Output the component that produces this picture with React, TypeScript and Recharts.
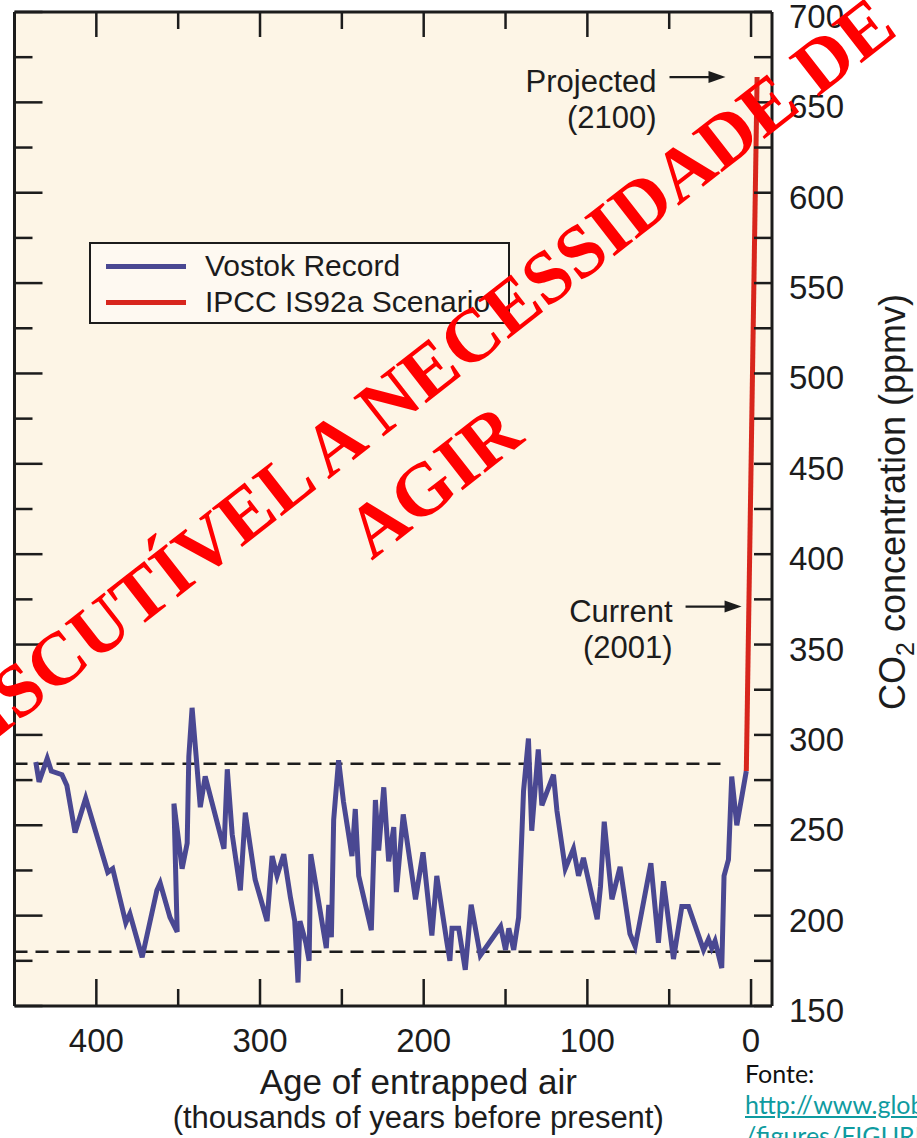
import React from 'react';
import { LineChart, Line, XAxis, YAxis, ReferenceLine, ReferenceDot, Legend, Label, CartesianGrid } from 'recharts';

// Vostok ice core record (age in thousands of years before present, CO2 in ppmv)
const vostokAge = [
  437, 435, 430, 427.5, 421, 418, 413, 406.5, 393, 390, 382, 379.5, 372, 363, 361, 355, 350.6, 352.6,
  347.6, 344.5, 343.5, 341.5, 339, 336.5, 333.5, 322, 320, 317, 312, 309, 303, 295.7, 292.6, 289.6,
  285.5, 281.4, 278.8, 276.8, 275.6, 272, 270, 269, 259.5, 258, 256.4, 255, 252, 249, 243.8, 241.8,
  239.7, 232, 229.5, 227.5, 224.4, 221.4, 218.3, 216.7, 212.5, 205, 200.4, 195, 192, 185.8, 184,
  182.7, 178.6, 174.6, 171, 165.4, 153, 150, 148, 145, 142, 139, 136, 134, 130, 127.8, 120.7, 118.6,
  113.5, 108.5, 105.4, 102.4, 94, 92, 89.7, 85, 80, 74, 70.8, 61.2, 56.6, 53.5, 47.4, 42.3, 38.2, 29,
  26, 24, 22, 17.9, 16.5, 13.8, 11.8, 8.7, 2.9,
];
const vostokCo2 = [
  285, 274, 287, 280, 278, 272, 246, 265, 224, 226, 196, 201, 177, 214, 218, 199, 191, 262,
  226, 240, 288, 315, 288, 260, 277, 237, 281, 245, 214, 257, 220, 197, 233, 222,
  234, 210, 197, 163, 197, 185, 175, 234, 182, 206, 188, 253, 286, 263, 233, 259,
  222, 192, 264, 236, 271, 230, 249, 213, 256, 209, 235, 189, 222, 185, 175,
  193, 193, 170, 206, 178, 194, 181, 193, 181, 199, 269, 298, 247, 292, 261, 278, 258,
  226, 237, 222, 232, 198, 216, 252, 209, 227, 190, 183, 229, 185, 219, 176, 205, 205, 181,
  187, 182, 186, 171, 222, 231, 277, 250, 280,
];

// IPCC IS92a projection
const ipccAge = [2.9, -3.7];
const ipccCo2 = [280, 664];

const ageTicks = [400, 350, 300, 250, 200, 150, 100, 50, 0];
const co2Ticks = [150, 175, 200, 225, 250, 275, 300, 325, 350, 375, 400, 425, 450, 475, 500, 525, 550, 575, 600, 625, 650, 675, 700];
const glacialLevels = [284, 180];
const glacialEndAge = 17.4;

const callouts = [
  { label: 'Projected', year: '(2100)', age: 15.6, co2: 664 },
  { label: 'Current', year: '(2001)', age: 5.8, co2: 371 },
];
const seriesNames = ['Vostok Record', 'IPCC IS92a Scenario'];
const seriesColors = ['#4a4892', '#d8261d'];

const vostok = vostokAge.map((age, i) => ({ age, co2: vostokCo2[i] }));
const ipcc = ipccAge.map((age, i) => ({ age, co2: ipccCo2[i] }));

const FONT = '"Liberation Sans", Arial, Helvetica, sans-serif';
const INK = '#1c1c1c';

const BottomTick = (props: any) => {
  const { x, y, payload } = props;
  const major = payload.value % 100 === 0;
  return (
    <g>
      <line x1={x} y1={y} x2={x} y2={y - (major ? 27 : 17)} stroke={INK} strokeWidth={2.5} />
      {major && (
        <text x={x} y={y + 46} textAnchor="middle" fontSize={33} fontFamily={FONT} fill={INK}>
          {payload.value}
        </text>
      )}
    </g>
  );
};

const TopTick = (props: any) => {
  const { x, y, payload } = props;
  const major = payload.value % 100 === 0;
  return <line x1={x} y1={y} x2={x} y2={y + (major ? 25 : 17)} stroke={INK} strokeWidth={2.5} />;
};

const LeftTick = (props: any) => {
  const { x, y, payload } = props;
  const major = payload.value % 50 === 0;
  return <line x1={x} y1={y} x2={x + (major ? 28 : 18)} y2={y} stroke={INK} strokeWidth={2.5} />;
};

const RightTick = (props: any) => {
  const { x, y, payload } = props;
  const major = payload.value % 50 === 0;
  return (
    <g>
      <line x1={x} y1={y} x2={x - 18} y2={y} stroke={INK} strokeWidth={2.5} />
      {major && (
        <text x={x + 17} y={y + 16} textAnchor="start" fontSize={33} fontFamily={FONT} fill={INK}>
          {payload.value}
        </text>
      )}
    </g>
  );
};

const Callout = (props: any) => {
  const { cx, cy, label, year } = props;
  return (
    <g fontFamily={FONT} fill={INK}>
      <text x={cx - 69} y={cy + 15} textAnchor="end" fontSize={31}>{label}</text>
      <text x={cx - 69} y={cy + 51} textAnchor="end" fontSize={31}>{year}</text>
      <line x1={cx - 56} y1={cy} x2={cx - 12} y2={cy} stroke={INK} strokeWidth={2.2} />
      <path d={`M${cx},${cy} L${cx - 17},${cy - 6} L${cx - 17},${cy + 6} Z`} fill={INK} />
    </g>
  );
};

const LegendBox = () => (
  <div
    style={{
      position: 'relative',
      width: 421,
      height: 82,
      boxSizing: 'border-box',
      border: `2.5px solid ${INK}`,
      background: '#fef9f1',
      fontFamily: FONT,
      fontSize: 30,
      color: INK,
    }}
  >
    {seriesNames.map((name, i) => (
      <div key={name} style={{ position: 'absolute', left: 15, top: 5 + i * 36, height: 34, display: 'flex', alignItems: 'center' }}>
        <div style={{ width: 80, height: 5, background: seriesColors[i] }} />
        <span style={{ marginLeft: 19, whiteSpace: 'nowrap', lineHeight: '34px' }}>{name}</span>
      </div>
    ))}
  </div>
);

export default function App() {
  return (
    <div style={{ position: 'absolute', left: 0, top: 0, width: 917, height: 1138, overflow: 'hidden', background: '#fff' }}>
      <LineChart width={917} height={1138} margin={{ top: 11, right: 0, bottom: 0, left: 13.5 }}>
        <CartesianGrid fill="#fdf5e6" stroke="none" horizontal={false} vertical={false} />
        <XAxis
          dataKey="age"
          type="number"
          domain={[-12.8, 450]}
          reversed
          allowDataOverflow
          ticks={ageTicks}
          interval={0}
          height={132}
          tickSize={0}
          tickMargin={0}
          tickLine={false}
          tick={<BottomTick />}
          axisLine={{ stroke: INK, strokeWidth: 3 }}
        >
          <Label
            content={(p: any) => {
              const vb = p.viewBox;
              const cx = vb.x + vb.width / 2 + 25;
              return (
                <g fontFamily={FONT} fill={INK} textAnchor="middle">
                  <text x={cx} y={vb.y + 88} fontSize={35}>Age of entrapped air</text>
                  <text x={cx} y={vb.y + 122} fontSize={31}>(thousands of years before present)</text>
                </g>
              );
            }}
          />
        </XAxis>
        {/* frame axes: top and left, ticks only */}
        <XAxis
          xAxisId="top"
          orientation="top"
          dataKey="age"
          type="number"
          domain={[-12.8, 450]}
          reversed
          allowDataOverflow
          ticks={ageTicks}
          interval={0}
          height={1}
          tickSize={0}
          tickMargin={0}
          tickLine={false}
          tick={<TopTick />}
          axisLine={{ stroke: INK, strokeWidth: 3 }}
        />
        <YAxis
          orientation="right"
          dataKey="co2"
          type="number"
          domain={[150, 700]}
          allowDataOverflow
          ticks={co2Ticks}
          interval={0}
          width={145}
          tickSize={0}
          tickMargin={0}
          tickLine={false}
          tick={<RightTick />}
          axisLine={{ stroke: INK, strokeWidth: 3 }}
        >
          <Label
            content={(p: any) => {
              const vb = p.viewBox;
              const tx = vb.x + 133;
              const ty = vb.y + 490;
              return (
                <text x={tx} y={ty} transform={`rotate(-90, ${tx}, ${ty})`} textAnchor="middle" fontSize={36} fontFamily={FONT} fill={INK}>
                  CO
                  <tspan fontSize={25} dy={9}>2</tspan>
                  <tspan dy={-9}> concentration (ppmv)</tspan>
                </text>
              );
            }}
          />
        </YAxis>
        <YAxis
          yAxisId="left"
          orientation="left"
          dataKey="co2"
          type="number"
          domain={[150, 700]}
          allowDataOverflow
          ticks={co2Ticks}
          interval={0}
          width={1}
          tickSize={0}
          tickMargin={0}
          tickLine={false}
          tick={<LeftTick />}
          axisLine={{ stroke: INK, strokeWidth: 3 }}
        />
        {glacialLevels.map((lvl) => (
          <ReferenceLine
            key={lvl}
            segment={[{ x: 450, y: lvl }, { x: glacialEndAge, y: lvl }]}
            stroke={INK}
            strokeWidth={2.5}
            strokeDasharray="13 8"
          />
        ))}
        <Line
          data={vostok}
          dataKey="co2"
          name={seriesNames[0]}
          stroke={seriesColors[0]}
          strokeWidth={5}
          dot={false}
          isAnimationActive={false}
        />
        <Line
          data={ipcc}
          dataKey="co2"
          name={seriesNames[1]}
          stroke={seriesColors[1]}
          strokeWidth={5}
          dot={false}
          isAnimationActive={false}
        />
        {callouts.map((c) => (
          <ReferenceDot
            key={c.label}
            x={c.age}
            y={c.co2}
            r={0}
            shape={(p: any) => <Callout {...p} label={c.label} year={c.year} />}
          />
        ))}
        <Legend
          layout="horizontal"
          verticalAlign="middle"
          align="center"
          content={() => <LegendBox />}
          wrapperStyle={{ left: 89, top: 242, width: 421, height: 82 }}
        />
      </LineChart>

      <div style={{ position: 'absolute', left: 745, top: 1058, fontFamily: 'Lato, "Open Sans", sans-serif', fontSize: 25, color: '#111', lineHeight: '31px', whiteSpace: 'nowrap' }}>
        <div>Fonte:</div>
        <div style={{ color: '#0f9ba0', textDecoration: 'underline' }}>http://www.globalwarmingart.com</div>
        <div style={{ color: '#0f9ba0', textDecoration: 'underline' }}>/figures/FIGURE</div>
      </div>

      <svg width={917} height={1138} style={{ position: 'absolute', left: 0, top: 0, pointerEvents: 'none' }}>
        <g transform="rotate(-38, 393, 429)" fontFamily='"Liberation Serif", "Times New Roman", serif' fontWeight="bold" fontSize={75} fill="#ff0000" textAnchor="middle">
          <text x={393} y={429}>INDISCUTÍVEL A NECESSIDADE DE</text>
          <text x={393} y={520}>AGIR</text>
        </g>
      </svg>
    </div>
  );
}
